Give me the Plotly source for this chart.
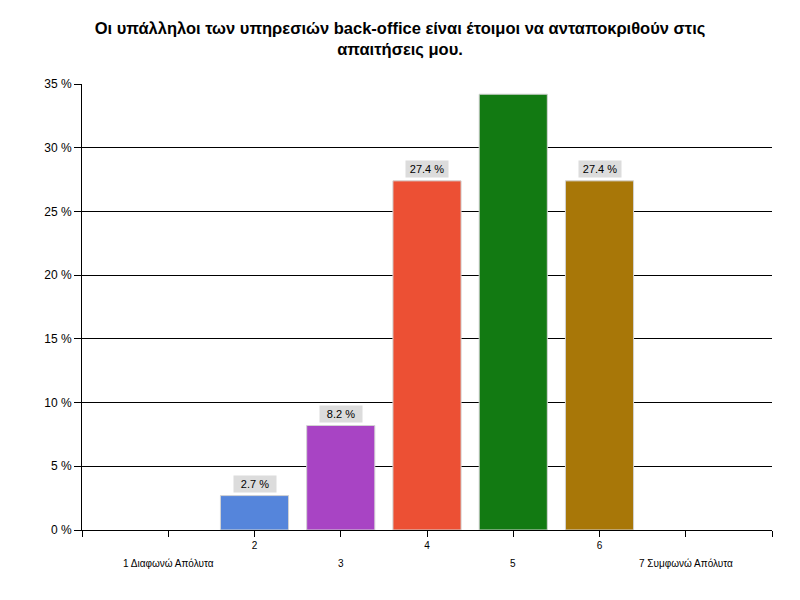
import plotly.graph_objects as go

categories = [1, 2, 3, 4, 5, 6, 7]
category_labels = ["1 Διαφωνώ Απόλυτα", "2", "3", "4", "5", "6", "7 Συμφωνώ Απόλυτα"]
values = [0.0, 2.7, 8.2, 27.4, 34.2, 27.4, 0.0]
value_labels = [None, "2.7 %", "8.2 %", "27.4 %", None, "27.4 %", None]
bar_colors = ["#808080", "#5585DB", "#A844C4", "#EC5034", "#127A12", "#A87708", "#808080"]
y_ticks = [0, 5, 10, 15, 20, 25, 30, 35]
title = "Οι υπάλληλοι των υπηρεσιών back-office είναι έτοιμοι να ανταποκριθούν στις<br>απαιτήσεις μου."

FONT = "Liberation Sans, Arial, sans-serif"

fig = go.Figure()
fig.add_trace(go.Bar(
    x=categories, y=values, width=0.79,
    marker=dict(color=bar_colors,
                line=dict(color="#D3D3D3", width=[0 if v == 0 else 1 for v in values])),
    hoverinfo="skip",
))

annotations = []
for c, v, lab in zip(categories, values, value_labels):
    if lab:
        annotations.append(dict(x=c, y=v, xref="x", yref="y", text=lab, showarrow=False,
                                yanchor="bottom", yshift=3, bgcolor="#DCDCDC",
                                borderpad=2, width=38,
                                font=dict(family=FONT, size=11, color="#000")))
# staggered x labels: even on first row (tick labels), odd on second row
tick_text = [""] * 9
for c, lab in zip(categories, category_labels):
    if c % 2 == 0:
        tick_text[c] = lab
    else:
        annotations.append(dict(x=c, y=0, xref="x", yref="paper", text=lab, showarrow=False,
                                yanchor="middle", yshift=-33,
                                font=dict(family=FONT, size=10, color="#000")))

fig.update_layout(
    width=800, height=600,
    margin=dict(l=82, r=28, t=84, b=70),
    paper_bgcolor="white", plot_bgcolor="white",
    showlegend=False,
    title=dict(text=f"<b>{title}</b>", x=0.5, xanchor="center", y=1 - 34 / 600,
               yanchor="middle", font=dict(family=FONT, size=16.5, color="#000")),
    font=dict(family=FONT, color="#000"),
    annotations=annotations,
    xaxis=dict(range=[0, 8], tickmode="array", tickvals=list(range(9)), ticktext=tick_text,
               ticks="outside", ticklen=6, tickcolor="#000", showline=True, linecolor="#000",
               showgrid=False, zeroline=False, tickfont=dict(size=10, family=FONT)),
    yaxis=dict(range=[0, 35], tickmode="array", tickvals=y_ticks,
               ticktext=[f"{t} %" for t in y_ticks], ticks="outside", ticklen=7,
               tickcolor="#000", showline=True, linecolor="#000", showgrid=True,
               gridcolor="#000", gridwidth=1, zeroline=False,
               tickfont=dict(size=12, family=FONT)),
)

fig.write_html("out.html")
